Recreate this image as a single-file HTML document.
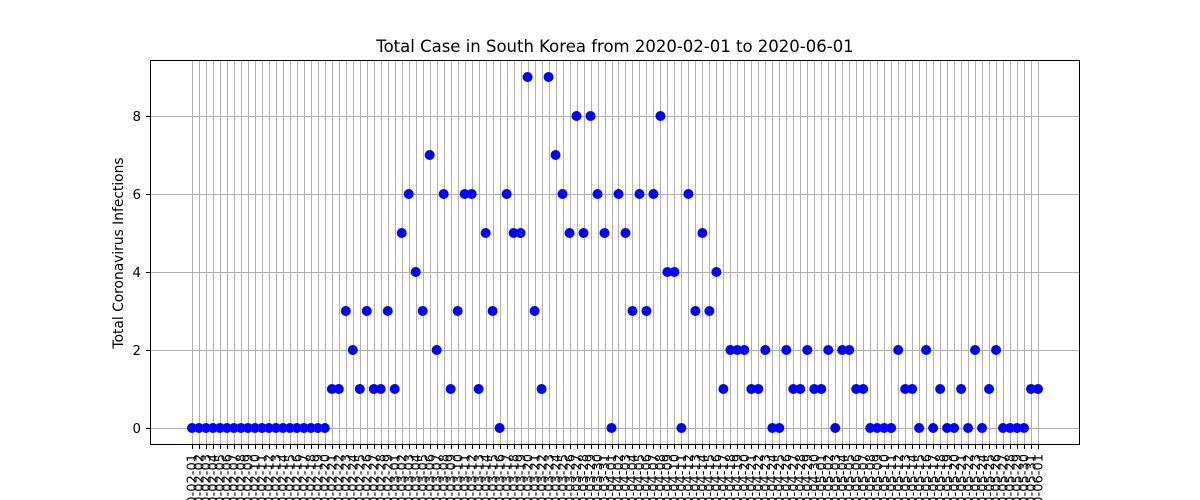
<!DOCTYPE html>
<html><head><meta charset="utf-8"><style>
html,body{margin:0;background:#fff;width:1200px;height:500px;overflow:hidden}
svg{display:block;overflow:hidden;font-family:"DejaVu Sans","Liberation Sans",sans-serif}
</style></head><body>
<svg id="chart" width="1200" height="500" viewBox="0 0 1200 500" xmlns="http://www.w3.org/2000/svg">
<rect width="1200" height="500" fill="#fff"/>
<text x="615" y="52" text-anchor="middle" font-size="16.5">Total Case in South Korea from 2020-02-01 to 2020-06-01</text>
<g id="grid"></g><g id="ticks"></g><g id="points"></g>
<rect x="150.5" y="60.5" width="929" height="384" fill="none" stroke="#000" stroke-width="1"/>
<text transform="translate(123,253) rotate(-90)" text-anchor="middle" font-size="13.8">Total Coronavirus Infections</text>
</svg>
<script>
const values=[0,0,0,0,0,0,0,0,0,0,0,0,0,0,0,0,0,0,0,0,
1,1,3,2,1,3,1,1,3,1,5,6,4,3,7,2,6,1,3,6,6,1,5,3,0,6,5,5,9,3,1,9,7,6,5,8,5,8,6,5,0,6,5,3,6,3,6,8,4,4,0,6,3,5,3,4,1,2,2,2,1,1,2,0,0,2,1,1,2,1,1,2,0,2,2,1,1,0,0,0,0,2,1,1,0,2,0,1,0,0,1,0,2,0,1,2,0,0,0,0,1,1];
const yTicks=[0,2,4,6,8];
const startDate="2020-02-01";
const NS="http://www.w3.org/2000/svg";
const n=values.length;
function xPos(i){return 192+i*(1038-192)/(n-1);}
function yPos(v){return 428-v*39;}
function mk(t,a){const e=document.createElementNS(NS,t);for(const k in a)e.setAttribute(k,a[k]);return e;}
const grid=document.getElementById('grid'),ticks=document.getElementById('ticks'),pts=document.getElementById('points');
const d0=new Date(startDate+"T00:00:00Z");
for(let i=0;i<n;i++){
  const x=Math.round(xPos(i))+0.5;
  const g=mk('line',{x1:x,x2:x,y1:60,y2:445,stroke:'#b0b0b0','stroke-width':1});
  
  
  grid.appendChild(g);
  const tk=mk('line',{x1:x,x2:x,y1:445,y2:449,stroke:'#000','stroke-width':1});
  
  
  ticks.appendChild(tk);
  const d=new Date(d0.getTime()+i*86400000);
  const lbl=d.toISOString().slice(0,10);
  const t=mk('text',{transform:`translate(${xPos(i)+4.7},454) rotate(-90)`,'text-anchor':'end','font-size':'13'});
  t.textContent=lbl;
  
  
  ticks.appendChild(t);
}
yTicks.forEach(v=>{
  const y=Math.round(yPos(v))+0.5;
  const g=mk('line',{x1:150,x2:1080,y1:y,y2:y,stroke:'#b0b0b0','stroke-width':1});
  
  
  grid.appendChild(g);
  const tk=mk('line',{x1:146,x2:150,y1:y,y2:y,stroke:'#000','stroke-width':1});
  
  
  ticks.appendChild(tk);
  const t=mk('text',{x:141,y:y+4.5,'text-anchor':'end','font-size':'13.3'});
  t.textContent=v;
  
  
  ticks.appendChild(t);
});
values.forEach((v,i)=>{
  const c=mk('circle',{cx:xPos(i),cy:yPos(v),r:5,fill:'#0000ff'});
  
  
  pts.appendChild(c);
});
</script>
</body></html>
